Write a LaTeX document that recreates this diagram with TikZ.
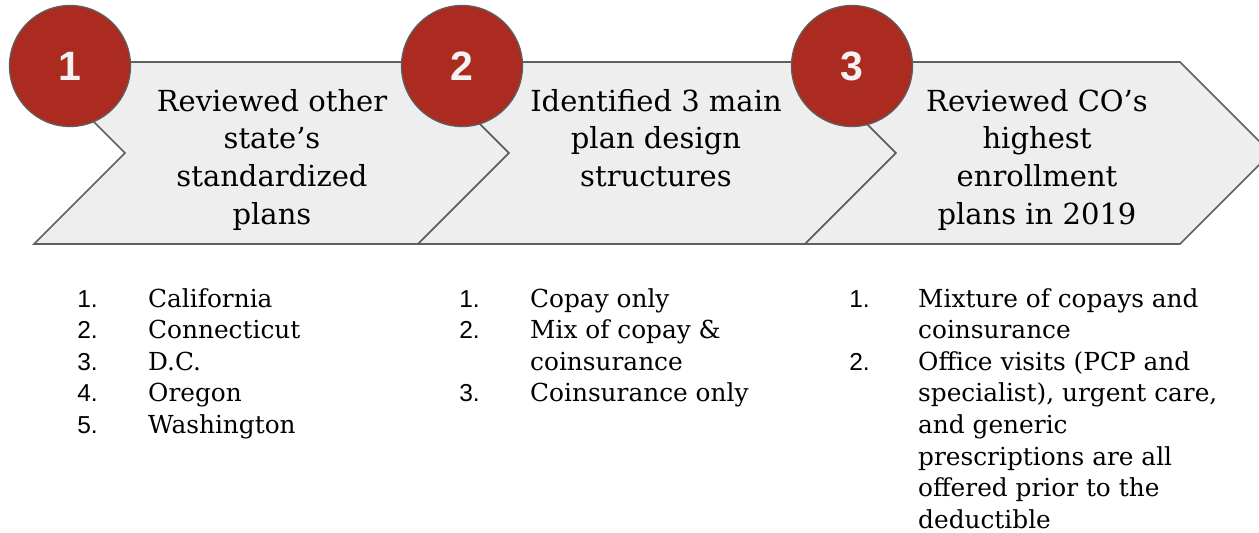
\documentclass[tikz,border=0pt]{standalone}
\usepackage{fontspec}
\setmainfont{DejaVu Serif}
\newfontfamily\numfont{Liberation Sans}
\definecolor{chevfill}{HTML}{EEEEEE}
\definecolor{edgegray}{HTML}{5F5F5F}
\definecolor{stepred}{HTML}{AB2B21}
\definecolor{digitwhite}{HTML}{F3F3F3}
\tikzset{
  chev/.style={fill=chevfill, draw=edgegray, line width=1.6pt, line join=miter},
  numcirc/.style={circle, fill=stepred, draw=edgegray, line width=1.3pt,
    minimum size=121pt, inner sep=0pt, text=digitwhite,
    font=\numfont\bfseries\fontsize{41}{41}\selectfont},
  headtext/.style={anchor=base, inner sep=0pt, font=\fontsize{29}{37.7}\selectfont},
  itemnum/.style={anchor=base east, inner sep=0pt, font=\numfont\fontsize{24.5}{31.6}\selectfont},
  itemtext/.style={anchor=base west, inner sep=0pt, font=\fontsize{24.8}{31.6}\selectfont}
}
\newcommand{\headbox}[1]{\parbox[t]{320pt}{\centering #1}}
\newcommand{\itembox}[1]{\parbox[t]{330pt}{\raggedright #1}}
\begin{document}
\begin{tikzpicture}[x=1pt,y=-1pt]
\clip (0,0) rectangle (1259,533);
\fill[white] (0,0) rectangle (1259,533);

% chevrons, each drawn over the tip of the previous one
\draw[chev] (34,62) -- (418,62) -- (509,153) -- (418,244) -- (34,244) -- (125,153) -- cycle;
\draw[chev] (418,62) -- (805,62) -- (896,153) -- (805,244) -- (418,244) -- (509,153) -- cycle;
\draw[chev] (805,62) -- (1180,62) -- (1271,153) -- (1180,244) -- (805,244) -- (896,153) -- cycle;

% step headings
\node[headtext] (h1) at (272,111) {\headbox{Reviewed other\\state’s\\standardized\\plans}};
\node[headtext] (h2) at (656,111) {\headbox{Identified 3 main\\plan design\\structures}};
\node[headtext] (h3) at (1037,111) {\headbox{Reviewed CO’s\\highest\\enrollment\\plans in 2019}};

% numbered badges
\node[numcirc] (n1) at (70,66) {1};
\node[numcirc] (n2) at (462,66) {2};
\node[numcirc] (n3) at (852,66) {3};

% list under step 1
\node[itemnum] (a1n) at (98,307) {1.};
\node[itemtext] (a1) at (148,307) {California};
\node[itemnum] (a2n) at (98,338.6) {2.};
\node[itemtext] (a2) at (148,338.6) {Connecticut};
\node[itemnum] (a3n) at (98,370.2) {3.};
\node[itemtext] (a3) at (148,370.2) {D.C.};
\node[itemnum] (a4n) at (98,401.8) {4.};
\node[itemtext] (a4) at (148,401.8) {Oregon};
\node[itemnum] (a5n) at (98,433.4) {5.};
\node[itemtext] (a5) at (148,433.4) {Washington};

% list under step 2
\node[itemnum] (b1n) at (480,307) {1.};
\node[itemtext] (b1) at (530,307) {Copay only};
\node[itemnum] (b2n) at (480,338.6) {2.};
\node[itemtext] (b2) at (530,338.6) {\itembox{Mix of copay \&\\coinsurance}};
\node[itemnum] (b3n) at (480,401.8) {3.};
\node[itemtext] (b3) at (530,401.8) {Coinsurance only};

% list under step 3
\node[itemnum] (c1n) at (870,307) {1.};
\node[itemtext] (c1) at (918,307) {\itembox{Mixture of copays and\\coinsurance}};
\node[itemnum] (c2n) at (870,370.2) {2.};
\node[itemtext] (c2) at (918,370.2) {\itembox{Office visits (PCP and\\specialist), urgent care,\\and generic\\prescriptions are all\\offered prior to the\\deductible}};
\end{tikzpicture}
\end{document}
